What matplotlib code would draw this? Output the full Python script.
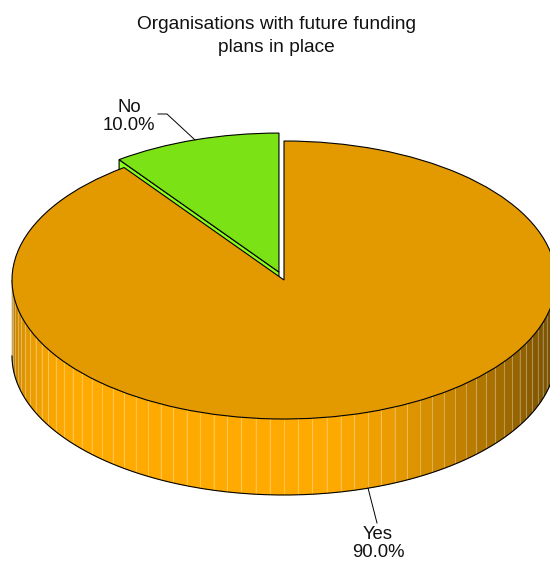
import numpy as np
import matplotlib
matplotlib.use('Agg')
import matplotlib.pyplot as plt

plt.rcParams['font.family'] = ['Liberation Sans', 'DejaVu Sans']

title = "Organisations with future funding\nplans in place"
labels = ['Yes', 'No']
shares = [90.0, 10.0]
top_colors = ['#E29A00', '#7BE315']
side_colors = ['#FFAA00', '#8BFF18']

# pixel layout of the disc
W, H = 550, 562
cx, cy = 284, 280
rx, ry = 272, 139
depth = 76 / ry
pull_out = 0.06

# wall brightness against the angle measured from the front of the disc
shade_angle = [-90, -76, -66, -59, -50, 10, 25, 37, 50, 65, 90]
shade_level = [0.64, 0.85, 0.93, 0.97, 1.0, 1.0, 0.9, 0.79, 0.66, 0.54, 0.40]


def shaded(color, level):
    rgb = np.array(matplotlib.colors.to_rgb(color))
    return tuple(rgb * level)


def ring(center, angle):
    a = np.radians(angle)
    return center[0] + np.cos(a), center[1] + np.sin(a)


fig = plt.figure(figsize=(W / 100, H / 100), dpi=100)
ax = fig.add_axes([0, 0, 1, 1])

wedges, _ = ax.pie(
    shares,
    colors=top_colors,
    startangle=90,
    counterclock=False,
    explode=[0, pull_out],
    radius=1,
    wedgeprops=dict(edgecolor='black', linewidth=0.8, zorder=3),
)
ax.set_aspect('auto')
ax.set_xlim(-cx / rx, (W - cx) / rx)
ax.set_ylim((cy - H) / ry, cy / ry)
ax.axis('off')

yes, no = wedges

# front wall of the big slice, one flat strip every 3 degrees
step = 3
edges = np.arange(180, 360 + step, step)
for a0, a1 in zip(edges[:-1], edges[1:]):
    ang = np.linspace(a0, a1, 6)
    xs, ys = ring(yes.center, ang)
    level = np.interp((a0 + a1) / 2 - 270, shade_angle, shade_level)
    ax.fill(
        np.r_[xs, xs[::-1]], np.r_[ys, ys[::-1] - depth],
        color=shaded(side_colors[0], level), linewidth=0.3, zorder=1,
    )
for a in edges[1:-1]:
    x, y = ring(yes.center, a)
    ax.plot([x, x], [y, y - depth], color='white', alpha=0.3, linewidth=0.8, zorder=1.5)

ang = np.linspace(180, 360, 200)
xs, ys = ring(yes.center, ang)
ax.plot(xs, ys - depth, color='black', linewidth=0.8, zorder=2)

# cut face of the small slice, mostly hidden behind the big one
x0, y0 = no.center
x1, y1 = ring(no.center, no.theta2)
ax.fill(
    [x0, x1, x1, x0], [y0, y1, y1 - depth, y0 - depth],
    facecolor=side_colors[1], edgecolor='black', linewidth=0.8, zorder=0.5,
)

# labels and leader lines
ax.text((129 - cx) / rx, (cy - 116.5) / ry, f"{labels[1]}\n{shares[1]:.1f}%",
        ha='center', va='center', fontsize=13.3, linespacing=1.07, color='#111111')
mid = np.radians((no.theta1 + no.theta2) / 2)
ex, ey = x0 + np.cos(mid), y0 + np.sin(mid)
ax.plot([(158 - cx) / rx, (167 - cx) / rx, ex], [(cy - 114) / ry, (cy - 114) / ry, ey],
        color='black', linewidth=0.7, zorder=4)

ax.text((378 - cx) / rx, (cy - 543.5) / ry, f"{labels[0]}\n{shares[0]:.1f}%",
        ha='center', va='center', fontsize=13.3, linespacing=1.15, color='#111111')
mid = np.radians((yes.theta1 + yes.theta2) / 2)
ex, ey = np.cos(mid), np.sin(mid) - depth
ax.plot([ex, (377 - cx) / rx], [ey, (cy - 523) / ry], color='black', linewidth=0.7, zorder=4)

ax.text((276 - cx) / rx, (cy - 36) / ry, title, ha='center', va='center',
        fontsize=13.8, linespacing=1.48, color='#111111')

fig.savefig('out.png', dpi=100)
